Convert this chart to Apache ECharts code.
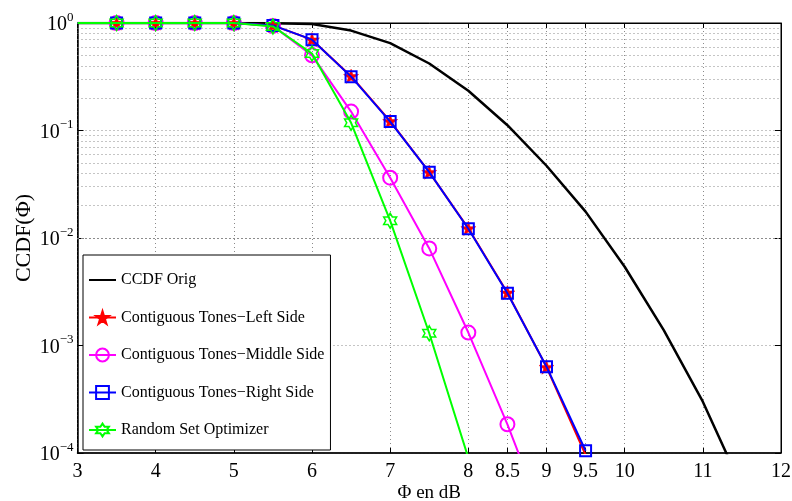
<!DOCTYPE html>
<html>
<head>
<meta charset="utf-8">
<script src="https://cdn.jsdelivr.net/npm/echarts@6/dist/echarts.min.js"></script>
<style>html,body{margin:0;padding:0;background:#fff;}#c{width:792px;height:501px;}</style>
</head>
<body>
<div id="c"></div>
<script>
// ---- data ----
const xTickLabels = [3, 4, 5, 6, 7, 8, 8.5, 9, 9.5, 10, 11, 12];
const yMinorMantissa = [2, 3, 4, 5, 6, 7, 8, 9];
const yMinorDecades = [1e-4, 1e-3, 1e-2, 1e-1];

const xOrig = [3, 3.5, 4, 4.5, 5, 5.5, 6, 6.5, 7, 7.5, 8, 8.5, 9, 9.5, 10, 10.5, 11, 11.5];
const ccdfOrig = [1, 1, 1, 1, 1, 0.995, 0.98, 0.85, 0.65, 0.42, 0.234, 0.112, 0.047, 0.0176, 0.0054, 0.00139, 3.0e-4, 4.8e-5];

const xLeft = [3, 3.5, 4, 4.5, 5, 5.5, 6, 6.5, 7, 7.5, 8, 8.5, 9, 9.5];
const leftSide = [1, 1, 1, 1, 1, 0.95, 0.70, 0.32, 0.122, 0.041, 0.0123, 0.0031, 6.3e-4, 9.6e-5];

const xMiddle = [3, 3.5, 4, 4.5, 5, 5.5, 6, 6.5, 7, 7.5, 8, 8.5, 9];
const middleSide = [1, 1, 1, 1, 1, 0.94, 0.50, 0.15, 0.0364, 0.0080, 0.00132, 1.85e-4, 2.1e-5];

const xRight = [3, 3.5, 4, 4.5, 5, 5.5, 6, 6.5, 7, 7.5, 8, 8.5, 9, 9.5];
const rightSide = [1, 1, 1, 1, 1, 0.95, 0.70, 0.317, 0.121, 0.041, 0.0122, 0.00306, 6.35e-4, 1.05e-4];

const xRandom = [3, 3.5, 4, 4.5, 5, 5.5, 6, 6.5, 7, 7.5, 8];
const randomSet = [1, 1, 1, 1, 1, 0.93, 0.52, 0.118, 0.0145, 0.0013, 9e-5];

const names = ['CCDF Orig', 'Contiguous Tones\u2212Left Side', 'Contiguous Tones\u2212Middle Side', 'Contiguous Tones\u2212Right Side', 'Random Set Optimizer'];

// ---- helpers ----
const FONT = 'Liberation Serif';
function pts(xs, ys) {
  return xs.map((x, i) => (i === 0 ? { value: [x, ys[i]], symbol: 'none' } : [x, ys[i]]));
}
const yMinor = [];
yMinorDecades.forEach(d => yMinorMantissa.forEach(m => yMinor.push(m * d)));

const STAR5 = 'path://M50,0L61.2,34.5L97.6,34.5L68.2,55.9L79.4,90.5L50,69.1L20.6,90.5L31.8,55.9L2.4,34.5L38.8,34.5Z';
const HEX6 = 'path://M50,0L64.4,25L93.3,25L78.9,50L93.3,75L64.4,75L50,100L35.6,75L6.7,75L21.1,50L6.7,25L35.6,25Z';

const gridDot = { color: '#8a8a8a', type: [1, 3], width: 1 };

const chart = echarts.init(document.getElementById('c'), null, { renderer: 'canvas' });
chart.setOption({
  animation: false,
  backgroundColor: '#fff',
  grid: { left: 77.5, right: 11, top: 23, bottom: 48, show: true, containLabel: false, outerBoundsMode: 'none', borderColor: '#000', borderWidth: 1, backgroundColor: 'transparent' },
  legend: {
    orient: 'vertical', left: 83, top: 255,
    itemWidth: 27, itemHeight: 16, itemGap: 21.5,
    padding: [17, 6, 12, 5],
    backgroundColor: '#fff', borderColor: '#000', borderWidth: 1, borderRadius: 0,
    textStyle: { fontFamily: FONT, fontSize: 16, color: '#000' },
    data: [
      { name: names[0], itemStyle: { color: 'transparent', borderWidth: 0 } },
      names[1], names[2], names[3], names[4]
    ]
  },
  xAxis: [
    {
      type: 'value', min: 3, max: 12, position: 'bottom',
      name: '\u03A6 en dB', nameLocation: 'middle', nameGap: 30.5, nameMoveOverlap: false,
      nameTextStyle: { fontFamily: FONT, fontSize: 19, color: '#000' },
      axisLine: { show: true, onZero: false, lineStyle: { color: '#000', width: 1.5 } },
      axisTick: { show: true, inside: true, length: 5, customValues: xTickLabels, lineStyle: { color: '#000' } },
      axisLabel: { customValues: xTickLabels, formatter: v => String(v), color: '#000', fontFamily: FONT, fontSize: 20, margin: 9 },
      splitLine: { show: true, lineStyle: gridDot }
    },
    {
      type: 'value', min: 3, max: 12, position: 'top',
      axisLine: { show: true, onZero: false, lineStyle: { color: '#000', width: 1 } },
      axisTick: { show: true, inside: true, length: 5, customValues: xTickLabels, lineStyle: { color: '#000' } },
      axisLabel: { show: false },
      splitLine: { show: false }
    }
  ],
  yAxis: [
    {
      type: 'log', logBase: 10, min: 1e-4, max: 1, position: 'left',
      name: 'CCDF(\u03A6)', nameLocation: 'middle', nameGap: 42, nameMoveOverlap: false,
      nameTextStyle: { fontFamily: FONT, fontSize: 22, color: '#000' },
      axisLine: { show: true, onZero: false, lineStyle: { color: '#000', width: 1.5 } },
      axisTick: { show: true, inside: true, length: 6, lineStyle: { color: '#000' } },
      axisLabel: {
        margin: 4,
        formatter: v => {
          const e = Math.round(Math.log10(v));
          return '{b|10}{e|' + (e < 0 ? '\u2212' + (-e) : String(e)) + '}';
        },
        rich: {
          b: { fontFamily: FONT, fontSize: 20, color: '#000', verticalAlign: 'bottom', lineHeight: 24 },
          e: { fontFamily: FONT, fontSize: 13, color: '#000', verticalAlign: 'top', lineHeight: 13 }
        }
      },
      splitLine: { show: true, lineStyle: gridDot }
    },
    {
      type: 'log', logBase: 10, min: 1e-4, max: 1, position: 'right',
      axisLine: { show: true, onZero: false, lineStyle: { color: '#000', width: 1 } },
      axisTick: { show: true, inside: true, length: 6, lineStyle: { color: '#000' } },
      axisLabel: { show: false },
      splitLine: { show: false }
    }
  ],
  series: [
    {
      name: names[0], type: 'line', xAxisIndex: 0, yAxisIndex: 0,
      data: xOrig.map((x, i) => [x, ccdfOrig[i]]),
      symbol: 'none', z: 3,
      lineStyle: { color: '#000', width: 2.5 },
      itemStyle: { color: '#000' },
      markLine: {
        silent: true, z: 1, symbol: ['none', 'none'], animation: false,
        label: { show: false },
        lineStyle: gridDot,
        emphasis: { disabled: true },
        data: yMinor.map(v => ({ yAxis: v }))
      }
    },
    {
      name: names[1], type: 'line', data: pts(xLeft, leftSide), z: 4,
      symbol: STAR5, symbolSize: 15, symbolKeepAspect: true,
      lineStyle: { color: '#ff0000', width: 2 },
      itemStyle: { color: '#ff0000', borderColor: '#ff0000', borderWidth: 0.5 }
    },
    {
      name: names[2], type: 'line', data: pts(xMiddle, middleSide), z: 5,
      symbol: 'circle', symbolSize: 14,
      lineStyle: { color: '#ff00ff', width: 2 },
      itemStyle: { color: 'transparent', borderColor: '#ff00ff', borderWidth: 2 }
    },
    {
      name: names[3], type: 'line', data: pts(xRight, rightSide), z: 6,
      symbol: 'rect', symbolSize: 11,
      lineStyle: { color: '#0000ff', width: 2 },
      itemStyle: { color: 'transparent', borderColor: '#0000ff', borderWidth: 2 }
    },
    {
      name: names[4], type: 'line', data: pts(xRandom, randomSet), z: 7,
      symbol: HEX6, symbolSize: 15, symbolKeepAspect: true,
      lineStyle: { color: '#00ff00', width: 2 },
      itemStyle: { color: 'transparent', borderColor: '#00ff00', borderWidth: 1.5 }
    }
  ]
});
</script>
</body>
</html>
